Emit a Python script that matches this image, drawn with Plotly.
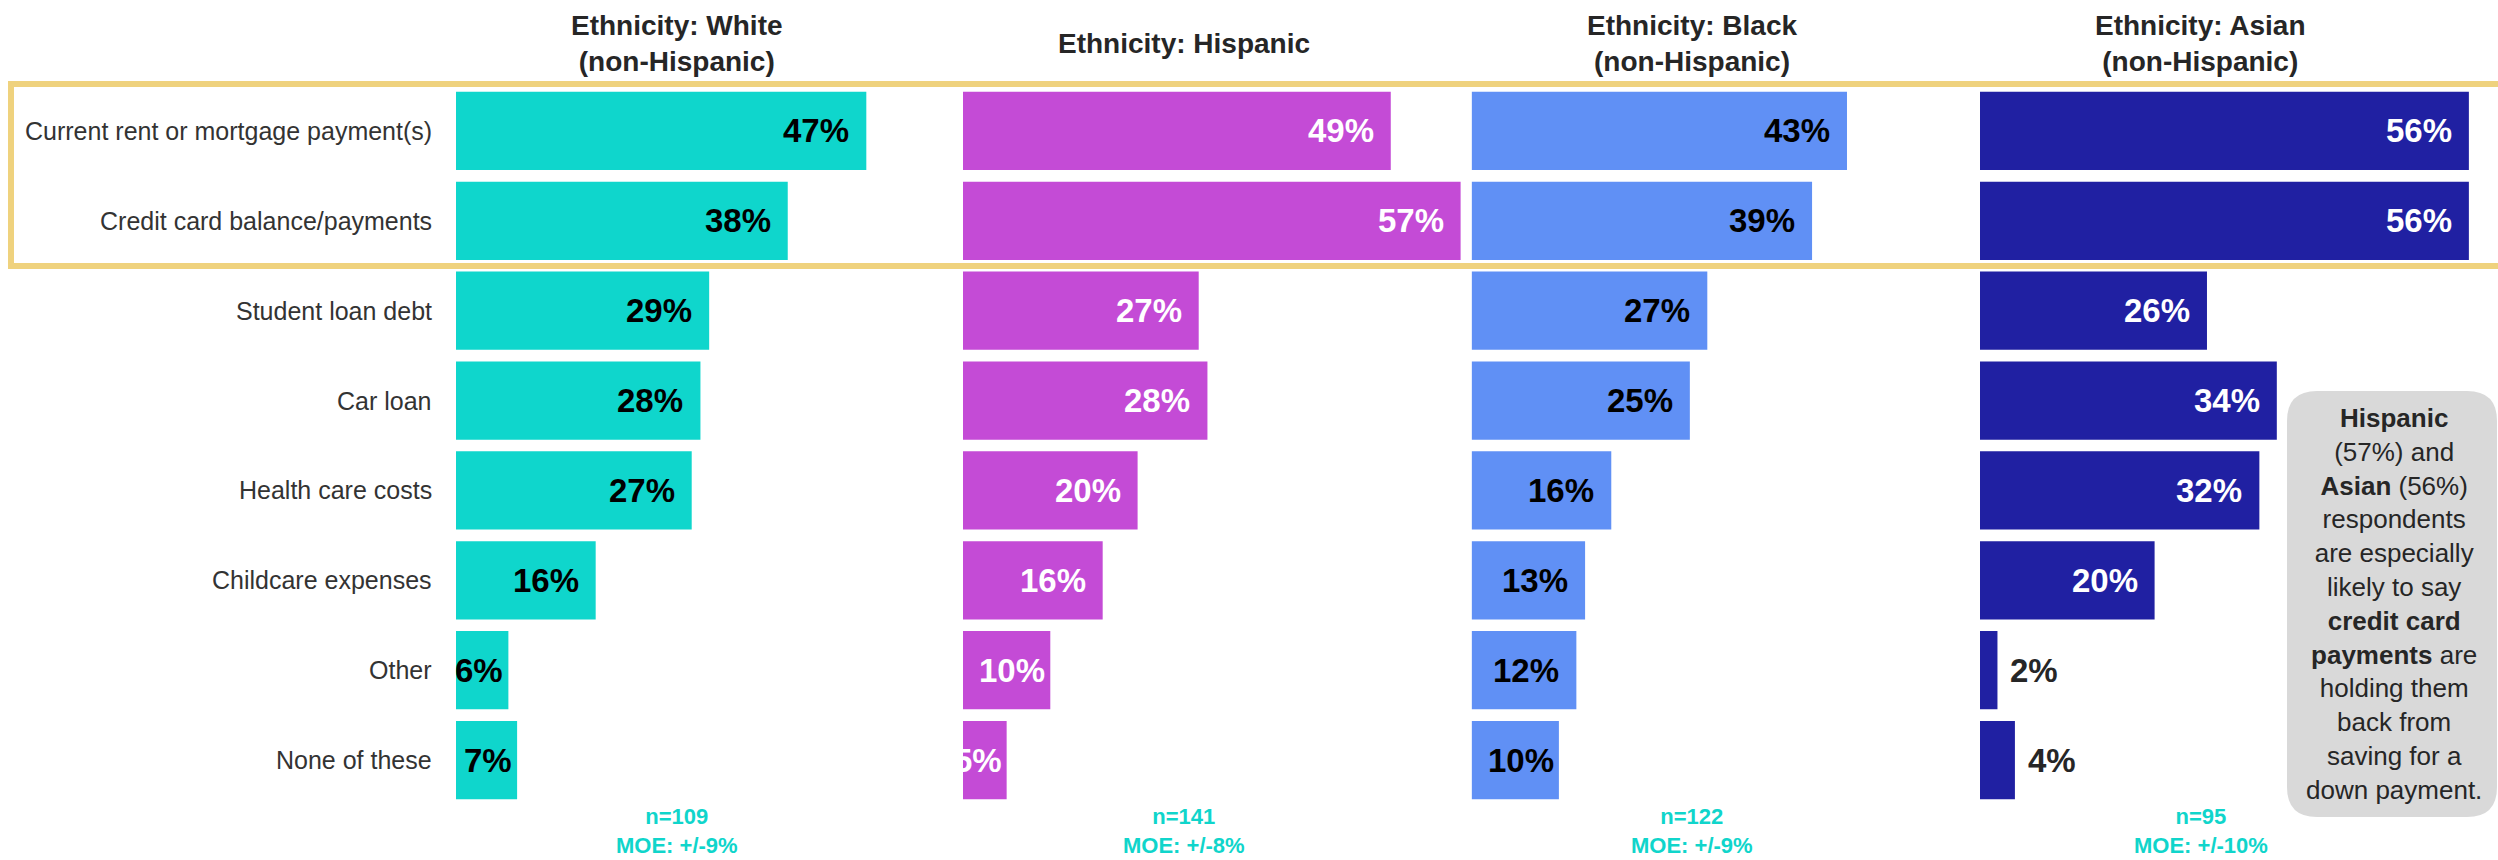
import plotly.graph_objects as go

W, H = 2498, 860

categories = ["Current rent or mortgage payment(s)", "Credit card balance/payments",
              "Student loan debt", "Car loan", "Health care costs",
              "Childcare expenses", "Other", "None of these"]
white = [47, 38, 29, 28, 27, 16, 6, 7]
hispanic = [49, 57, 27, 28, 20, 16, 10, 5]
black = [43, 39, 27, 25, 16, 13, 12, 10]
asian = [56, 56, 26, 34, 32, 20, 2, 4]

series = [white, hispanic, black, asian]
titles = ["<b>Ethnicity: White<br>(non-Hispanic)</b>", "<b>Ethnicity: Hispanic</b>",
          "<b>Ethnicity: Black<br>(non-Hispanic)</b>", "<b>Ethnicity: Asian<br>(non-Hispanic)</b>"]
n_labels = ["n=109", "n=141", "n=122", "n=95"]
moe_labels = ["MOE: +/-9%", "MOE: +/-8%", "MOE: +/-9%", "MOE: +/-10%"]
bar_colors = ["#0FD6CC", "#C44BD6", "#6090F5", "#2020A2"]
label_colors = ["#000000", "#FFFFFF", "#000000", "#FFFFFF"]

FONT = "Liberation Sans, Arial, sans-serif"
DARK = "#262626"
TEAL = "#10D5CB"

panel_start_px = [456, 963, 1471.6, 1980]
px_per_pct = 8.73
xmax = 58
dom_w = xmax * px_per_pct

fig = go.Figure()
annotations = []
VAL_SIZE = 33

for i, vals in enumerate(series):
    xa = "x" if i == 0 else f"x{i+1}"
    fig.add_trace(go.Bar(
        x=vals, y=categories, orientation="h", xaxis=xa, yaxis="y",
        marker=dict(color=bar_colors[i], line=dict(width=0)),
        width=0.87, hoverinfo="skip", showlegend=False))
    axkey = "xaxis" if i == 0 else f"xaxis{i+1}"
    s = panel_start_px[i]
    fig.layout[axkey] = dict(domain=[s / W, (s + dom_w) / W], range=[0, xmax],
                             visible=False, fixedrange=True, anchor="y")
    # value labels
    for cat, v in zip(categories, vals):
        txt = f"{v}%"
        ndig = len(str(v))
        tw = (0.556 * ndig + 0.889) * VAL_SIZE
        bar_px = v * px_per_pct
        if bar_px >= tw + 30:
            xanchor, xshift, col = "right", -15, label_colors[i]
        elif bar_px >= tw * 0.9:
            xanchor, xshift, col = "right", -3, label_colors[i]
        else:
            xanchor, xshift, col = "left", 11, DARK
        annotations.append(dict(
            x=v, y=cat, xref=xa, yref="y", text=f"<b>{txt}</b>", showarrow=False,
            xanchor=xanchor, yanchor="middle", xshift=xshift,
            font=dict(family=FONT, size=VAL_SIZE, color=col)))
    # titles
    annotations.append(dict(
        x=25.3, y=1 - 43 / H, xref=xa, yref="paper", text=titles[i], showarrow=False,
        xanchor="center", yanchor="middle",
        font=dict(family=FONT, size=28, color=DARK)))
    # footer (two lines in one text)
    annotations.append(dict(
        x=25.3, y=1 - 831 / H, xref=xa, yref="paper",
        text=f"<b>{n_labels[i]}<br>{moe_labels[i]}</b>",
        showarrow=False, xanchor="center", yanchor="middle", align="center",
        font=dict(family=FONT, size=22, color=TEAL)))

# category labels
for cat in categories:
    annotations.append(dict(
        x=434 / W, y=cat, xref="paper", yref="y", text=cat, showarrow=False,
        xanchor="right", yanchor="middle",
        font=dict(family=FONT, size=25, color="#333333")))

# callout text
callout = ("<b>Hispanic</b><br>(57%) and<br><b>Asian</b> (56%)<br>respondents<br>"
           "are especially<br>likely to say<br><b>credit card</b><br><b>payments</b> are<br>"
           "holding them<br>back from<br>saving for a<br>down payment.")
annotations.append(dict(
    x=2394 / W, y=1 - 604 / H, xref="paper", yref="paper", text=callout, showarrow=False,
    xanchor="center", yanchor="middle", align="center",
    font=dict(family=FONT, size=26, color=DARK)))

# rounded gray box path (paper coords)
def px(x):
    return x / W

def py(y):
    return 1 - y / H

x0, x1, y0, y1, r = 2287, 2497, 391, 817, 30
path = (f"M {px(x0 + r)},{py(y0)} L {px(x1 - r)},{py(y0)} "
        f"Q {px(x1)},{py(y0)} {px(x1)},{py(y0 + r)} "
        f"L {px(x1)},{py(y1 - r)} Q {px(x1)},{py(y1)} {px(x1 - r)},{py(y1)} "
        f"L {px(x0 + r)},{py(y1)} Q {px(x0)},{py(y1)} {px(x0)},{py(y1 - r)} "
        f"L {px(x0)},{py(y0 + r)} Q {px(x0)},{py(y0)} {px(x0 + r)},{py(y0)} Z")

shapes = [
    dict(type="path", path=path, xref="paper", yref="paper",
         fillcolor="#D9D9D9", line=dict(width=0), layer="below"),
    dict(type="rect", xref="paper", yref="paper",
         x0=11 / W, x1=1.01, y0=1 - 266 / H, y1=1 - 84 / H,
         line=dict(color="#EFD27E", width=6), fillcolor="rgba(0,0,0,0)", layer="above"),
]

fig.update_layout(
    width=W, height=H, margin=dict(l=0, r=0, t=0, b=0),
    paper_bgcolor="white", plot_bgcolor="rgba(0,0,0,0)",
    yaxis=dict(domain=[1 - 805 / H, 1 - 86 / H], type="category",
               categoryorder="array", categoryarray=categories,
               range=[7.5, -0.5], visible=False, fixedrange=True),
    annotations=annotations, shapes=shapes, bargap=0.13,
    font=dict(family=FONT),
)

fig.write_html("out.html", config={"displayModeBar": False})
